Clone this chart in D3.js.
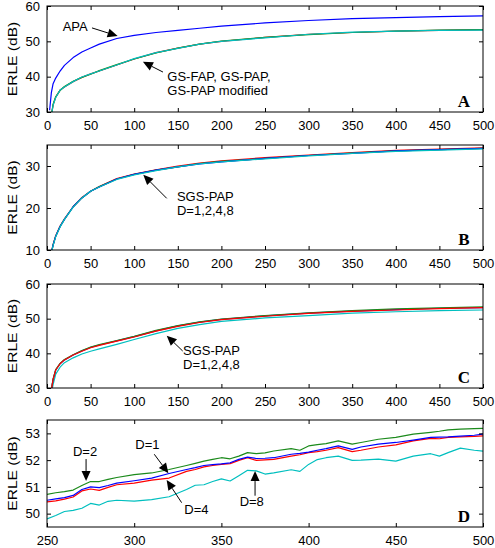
<!DOCTYPE html>
<html><head><meta charset="utf-8">
<script src="https://cdn.jsdelivr.net/npm/d3@7"></script>
<style>
body{margin:0;background:#fff}
svg{display:block}
text{font-family:"Liberation Sans",Arial,Helvetica,sans-serif}
</style>
</head><body>
<svg id="chart" width="495" height="548"></svg>
<script>
// ---------- DATA ----------
const xFull = [3,5,7,10,15,20,30,40,50,60,80,100,125,150,175,200,250,300,350,400,450,500];
const xTicksFull = [0,50,100,150,200,250,300,350,400,450,500];
const xTicksZoom = [250,300,350,400,450,500];

// Panel A
const apa      = [30.5,35.5,38.0,39.6,41.6,43.2,45.4,47.0,48.1,49.2,50.8,51.7,52.5,53.1,53.7,54.3,55.2,55.9,56.4,56.7,57.0,57.2];
const gsFap    = [26.0,29.0,32.0,34.2,36.2,37.1,38.6,39.8,40.8,41.6,43.3,45.0,46.8,48.1,49.2,50.0,51.1,52.0,52.5,52.9,53.1,53.3];
const gsPap    = [26.0,29.2,32.2,34.3,36.1,37.2,38.7,39.8,40.7,41.7,43.4,45.0,46.7,48.1,49.2,50.1,51.1,51.9,52.5,52.9,53.2,53.3];
const gsPapMod = [25.8,28.9,31.9,34.1,36.2,37.1,38.6,39.9,40.8,41.6,43.3,45.1,46.8,48.0,49.2,50.0,51.0,52.0,52.6,52.9,53.1,53.2];
const yTicksA = [30,40,50,60];

// Panel B (SGS-PAP, D=1,2,4,8)
const sgsB1 = [7.0,9.3,11.2,13.3,15.6,17.3,20.3,22.4,24.0,25.0,26.9,28.0,29.0,29.8,30.5,31.0,31.8,32.5,33.0,33.6,33.9,34.2];
const sgsB2 = [7.0,9.3,11.2,13.3,15.6,17.3,20.3,22.4,24.0,25.1,26.9,28.0,29.0,29.8,30.6,31.1,31.8,32.5,33.1,33.6,33.9,34.2];
const sgsB4 = [7.1,9.4,11.3,13.4,15.7,17.4,20.3,22.5,24.0,25.1,27.0,28.1,29.1,30.0,30.7,31.2,32.0,32.6,33.2,33.7,34.0,34.3];
const sgsB8 = [6.9,9.2,11.1,13.2,15.5,17.3,20.2,22.4,24.0,25.0,26.8,27.9,28.9,29.8,30.5,31.0,31.7,32.4,33.0,33.5,33.8,34.1];
const yTicksB = [10,20,30];

// Panel C (SGS-PAP, D=1,2,4,8)
const sgsC1 = [26.0,29.5,32.5,35.2,37.0,38.1,39.5,40.7,41.7,42.4,43.6,44.8,46.5,47.9,49.0,49.8,50.8,51.6,52.2,52.6,53.0,53.2];
const sgsC2 = [26.1,29.6,32.6,35.3,37.1,38.2,39.6,40.8,41.8,42.5,43.7,44.9,46.6,48.0,49.1,49.9,50.9,51.7,52.3,52.8,53.1,53.4];
const sgsC4 = [26.0,29.5,32.5,35.2,37.0,38.1,39.5,40.6,41.6,42.3,43.5,44.7,46.4,47.8,48.9,49.7,50.7,51.5,52.1,52.5,52.9,53.2];
const sgsC8 = [25.0,28.5,31.0,34.0,36.0,37.3,38.7,39.8,40.6,41.3,42.6,44.0,45.7,47.2,48.3,49.2,50.2,50.9,51.6,52.0,52.3,52.5];
const yTicksC = [30,40,50,60];

// Panel D (zoom, 250..500)
const xZoom = [250,255,260,265,270,275,280,285,290,300,310,320,330,335,340,345,350,355,360,365,370,375,380,390,395,400,405,410,417,425,430,440,450,460,470,475,480,487,495,500];
const dz1 = [50.50,50.55,50.60,50.68,50.90,51.00,50.97,51.05,51.14,51.23,51.33,51.50,51.65,51.72,51.80,51.83,51.86,51.90,52.03,52.11,52.06,52.07,52.09,52.22,52.25,52.30,52.37,52.43,52.53,52.40,52.49,52.60,52.66,52.75,52.85,52.86,52.87,52.90,52.93,52.97];
const dz2 = [50.72,50.78,50.82,50.88,51.05,51.20,51.20,51.28,51.35,51.46,51.52,51.65,51.80,51.88,51.96,52.03,52.09,52.05,52.15,52.28,52.24,52.27,52.34,52.43,52.37,52.53,52.58,52.62,52.72,52.60,52.66,52.78,52.85,52.97,53.04,53.08,53.13,53.16,53.18,53.19];
const dz4 = [50.44,50.48,50.54,50.62,50.85,50.92,50.87,50.98,51.08,51.14,51.25,51.33,51.58,51.65,51.75,51.80,51.84,51.87,51.99,52.09,51.99,52.01,52.03,52.15,52.20,52.28,52.32,52.37,52.47,52.32,52.37,52.49,52.57,52.72,52.81,52.80,52.85,52.87,52.89,52.91];
const dz8 = [49.80,49.93,50.08,50.12,50.20,50.38,50.32,50.46,50.50,50.47,50.52,50.63,50.90,51.06,51.08,51.20,51.30,51.22,51.42,51.62,51.60,51.48,51.52,51.64,51.58,51.84,52.02,52.09,52.15,51.99,52.00,52.04,51.96,52.15,52.24,52.15,52.28,52.45,52.37,52.34];
const yTicksD = [50,51,52,53];

// ---------- LAYOUT / STYLE ----------
const COL = {blue:"#0000ff", red:"#ff0000", green:"#1b8a1b", cyan:"#00bfbf"};
const left = 47, right = 483;
const panels = [
  {letter:"A", top:6,   bottom:112, xDom:[0,500],   yDom:[30,60],     xTicks:xTicksFull, yTicks:yTicksA, xs:xFull,
   series:[{v:gsFap,c:COL.red},{v:gsPap,c:COL.green},{v:gsPapMod,c:COL.cyan},{v:apa,c:COL.blue}],
   notes:[{t:["APA"], x:18, y:52.9, anchor:"start", from:[51.6,53.8], to:[81,51.5]},
          {t:["GS-FAP, GS-PAP,","GS-PAP modified"], x:138, y:38.8, anchor:"start", from:[133,41.3], to:[110,44.2]}]},
  {letter:"B", top:145, bottom:250, xDom:[0,500],   yDom:[10,35],     xTicks:xTicksFull, yTicks:yTicksB, xs:xFull,
   series:[{v:sgsB4,c:COL.red},{v:sgsB2,c:COL.green},{v:sgsB1,c:COL.blue},{v:sgsB8,c:COL.cyan}],
   notes:[{t:["SGS-PAP","D=1,2,4,8"], x:149, y:21.7, anchor:"start", from:[137.3,22.3], to:[110.4,27.9]}]},
  {letter:"C", top:284, bottom:388, xDom:[0,500],   yDom:[30,60],     xTicks:xTicksFull, yTicks:yTicksC, xs:xFull,
   series:[{v:sgsC8,c:COL.cyan},{v:sgsC1,c:COL.blue},{v:sgsC2,c:COL.green},{v:sgsC4,c:COL.red}],
   notes:[{t:["SGS-PAP","D=1,2,4,8"], x:156, y:39.66, anchor:"start", from:[155.6,40.67], to:[137.3,45.1]}]},
  {letter:"D", top:420, bottom:527, xDom:[250,500], yDom:[49.5,53.5], xTicks:xTicksZoom, yTicks:yTicksD, xs:xZoom,
   series:[{v:dz8,c:COL.cyan},{v:dz4,c:COL.red},{v:dz1,c:COL.blue},{v:dz2,c:COL.green}],
   notes:[{t:["D=2"], x:271.8, y:52.15, anchor:"middle", from:[272.4,52.04], to:[272.4,51.22]},
          {t:["D=1"], x:307.6, y:52.4,  anchor:"middle", from:[311.5,52.22], to:[319.6,51.51]},
          {t:["D=4"], x:335.7, y:49.97, anchor:"middle", from:[327.2,50.41], to:[318.6,51.26]},
          {t:["D=8"], x:367.4, y:50.29, anchor:"middle", from:[369.3,50.67], to:[369.3,51.59]}]}
];

const svg = d3.select("#chart");

panels.forEach((p, i) => {
  const x = d3.scaleLinear().domain(p.xDom).range([left, right]);
  const y = d3.scaleLinear().domain(p.yDom).range([p.bottom, p.top]);
  const g = svg.append("g");

  const cid = "clip" + i;
  svg.append("clipPath").attr("id", cid).append("rect")
    .attr("x", left).attr("y", p.top).attr("width", right - left).attr("height", p.bottom - p.top);

  // lines
  const line = d3.line().x((d, k) => x(p.xs[k])).y(d => y(d));
  const lg = g.append("g").attr("clip-path", `url(#${cid})`);
  p.series.forEach(s => {
    lg.append("path").datum(s.v).attr("d", line)
      .attr("fill", "none").attr("stroke", s.c).attr("stroke-width", 1.2)
      .attr("stroke-linejoin", "round");
  });

  // axes
  const fs = "13px";
  const ax = (a) => a.tickSizeInner(-4).tickSizeOuter(0);
  const gb = g.append("g").attr("transform", `translate(0,${p.bottom})`)
    .call(ax(d3.axisBottom(x)).tickValues(p.xTicks).tickPadding(8.5).tickFormat(d3.format("d")));
  const gl = g.append("g").attr("transform", `translate(${left},0)`)
    .call(ax(d3.axisLeft(y)).tickValues(p.yTicks).tickPadding(7).tickFormat(d3.format("d")));
  const gt = g.append("g").attr("transform", `translate(0,${p.top})`)
    .call(ax(d3.axisTop(x)).tickValues(p.xTicks).tickFormat(""));
  const gr = g.append("g").attr("transform", `translate(${right},0)`)
    .call(ax(d3.axisRight(y)).tickValues(p.yTicks).tickFormat(""));
  [gb, gl, gt, gr].forEach(a => {
    a.select(".domain").remove();
    a.selectAll("text").style("font-size", fs).attr("fill", "#000")
      .style("font-family", '"Liberation Sans",Arial,sans-serif');
    a.selectAll("line").attr("stroke", "#000");
  });

  // box
  g.append("rect").attr("x", left).attr("y", p.top)
    .attr("width", right - left).attr("height", p.bottom - p.top)
    .attr("fill", "none").attr("stroke", "#000").attr("stroke-width", 1);

  // y label
  g.append("text")
    .attr("transform", `translate(17,${(p.top + p.bottom) / 2}) rotate(-90) scale(1.2,1)`)
    .attr("text-anchor", "middle").style("font-size", "13px").text("ERLE (dB)");

  // panel letter
  g.append("text").attr("x", right - 19).attr("y", p.bottom - 5)
    .attr("text-anchor", "middle")
    .style("font-family", '"Liberation Serif","Times New Roman",serif')
    .style("font-weight", "bold").style("font-size", "17px").text(p.letter);

  // annotations
  p.notes.forEach(n => {
    const t = g.append("text").attr("x", x(n.x)).attr("y", y(n.y))
      .attr("text-anchor", n.anchor).style("font-size", "13px");
    n.t.forEach((s, k) => t.append("tspan").attr("x", x(n.x)).attr("dy", k ? 14 : 0).text(s));
    const x1 = x(n.from[0]), y1 = y(n.from[1]), x2 = x(n.to[0]), y2 = y(n.to[1]);
    const ang = Math.atan2(y2 - y1, x2 - x1);
    const L = 10, W = 4.5;
    const bx = x2 - L * Math.cos(ang), by = y2 - L * Math.sin(ang);
    g.append("line").attr("x1", x1).attr("y1", y1).attr("x2", bx).attr("y2", by)
      .attr("stroke", "#000").attr("stroke-width", 1);
    const px = -Math.sin(ang) * W, py = Math.cos(ang) * W;
    g.append("polygon")
      .attr("points", `${x2},${y2} ${bx + px},${by + py} ${bx - px},${by - py}`)
      .attr("fill", "#000");
  });
});
</script>
</body></html>
